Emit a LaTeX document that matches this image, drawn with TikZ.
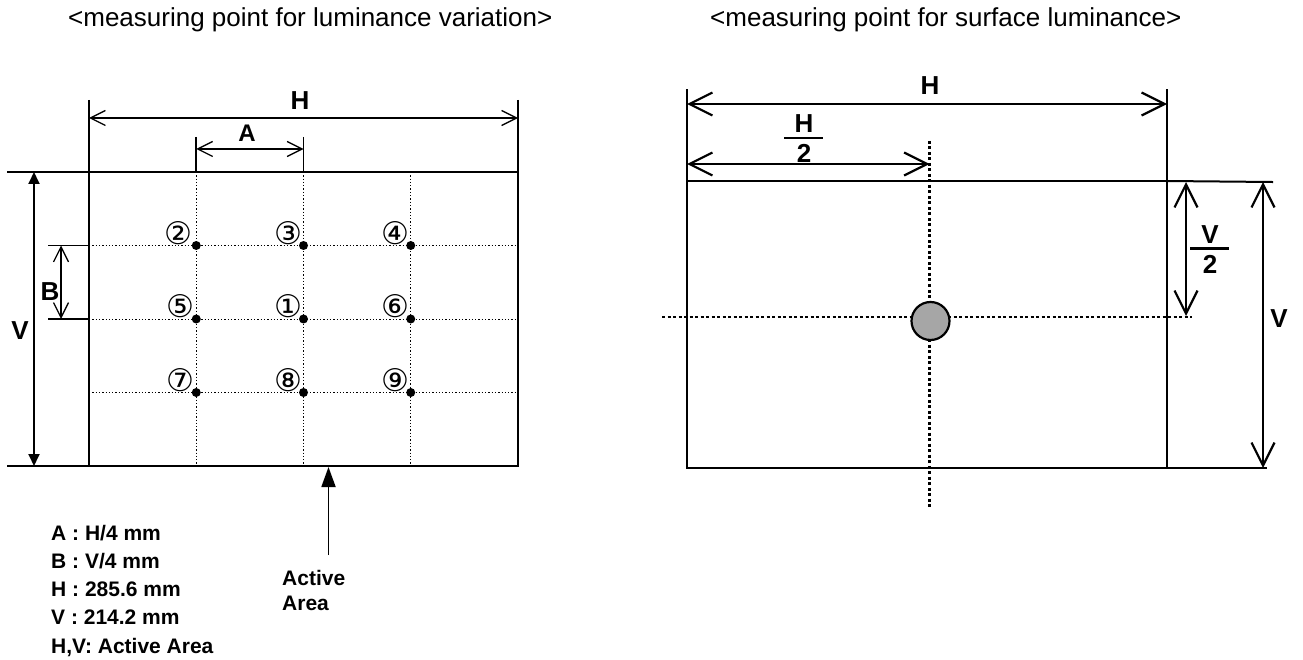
\documentclass[tikz,border=0pt]{standalone}
\usepackage{graphicx}
\usepackage{fontspec}
\setmainfont{Liberation Sans}
\newfontfamily\circfont{DejaVu Sans}
\usetikzlibrary{arrows.meta}
\newcommand{\cnum}[1]{\resizebox{!}{23pt}{\circfont #1}}
\tikzset{
  frame/.style={line width=2pt, line cap=rect},
  extline/.style={line width=1.8pt},
  dimthin/.style={line width=1.3pt, {Straight Barb[length=15pt,width=15pt]}-{Straight Barb[length=15pt,width=15pt]}},
  dimbig/.style={line width=2.2pt, {Straight Barb[length=23pt,width=23pt]}-{Straight Barb[length=23pt,width=23pt]}},
  dimsolid/.style={line width=1.8pt, {Triangle[length=12pt,width=11pt]}-{Triangle[length=12pt,width=11pt]}},
  uparrow/.style={line width=1.8pt, -{Triangle[length=20pt,width=14pt]}},
  gridline/.style={line width=1pt, dash pattern=on 1.3pt off 2pt},
  bigdots/.style={line width=2.5pt, dash pattern=on 3pt off 2.5pt},
  lab/.style={inner sep=0pt, font=\bfseries\fontsize{26}{30}\selectfont},
  smalllab/.style={inner sep=0pt, font=\bfseries\fontsize{24}{28}\selectfont},
  title/.style={inner sep=0pt, font=\fontsize{26}{30}\selectfont},
  txt/.style={inner sep=0pt, font=\bfseries\fontsize{21}{24}\selectfont},
  num/.style={inner sep=0pt},
  dot/.style={circle, fill=black, inner sep=0pt, minimum size=9pt},
  measpt/.style={circle, draw=black, line width=2.2pt, fill=black!35, inner sep=0pt, minimum size=38pt},
  fracbar/.style={line width=2.6pt}
}
\begin{document}
\begin{tikzpicture}[x=1pt,y=-1pt]
\useasboundingbox (0,0) rectangle (1303,660);

% ---------- titles ----------
\node[title, anchor=base west] (t1) at (68,27) {<measuring point for luminance variation>};
\node[title, anchor=base west] (t2) at (710,27) {<measuring point for surface luminance>};

% ================= LEFT DIAGRAM =================
\coordinate (Ltl) at (89,172);
\coordinate (Ltr) at (518,172);
\coordinate (Lbl) at (89,466);
\coordinate (Lbr) at (518,466);
\coordinate (Ltop0) at (8,172);
\coordinate (Lbot0) at (8,466);

% grid lines (dotted)
\foreach \i/\x in {1/196.25,2/303.5,3/410.75}{
  \coordinate (gvT\i) at (\x,172);
  \coordinate (gvB\i) at (\x,466);
  \draw[gridline] (gvT\i) -- (gvB\i);
}
\foreach \j/\y in {1/245.5,2/319,3/392.5}{
  \coordinate (ghL\j) at (89,\y);
  \coordinate (ghR\j) at (518,\y);
  \draw[gridline] (ghL\j) -- (ghR\j);
}

% frame
\draw[frame] (Ltop0) -- (Ltr) -- (Lbr) -- (Lbot0);
\draw[frame] (Ltl) -- (Lbl);

% H dimension
\coordinate (LHe1) at (89,100);
\coordinate (LHe2) at (518,100);
\draw[extline] (LHe1) -- (Ltl);
\draw[extline] (LHe2) -- (Ltr);
\coordinate (LHa1) at (89,118);
\coordinate (LHa2) at (518,118);
\draw[dimthin] (LHa1) -- (LHa2);
\node[lab] (LH) at (300,101) {H};

% A dimension
\coordinate (LAe1) at (196.25,137);
\coordinate (LAe2) at (303.5,137);
\draw[extline] (LAe1) -- (gvT1);
\draw[extline] (LAe2) -- (gvT2);
\coordinate (LAa1) at (196.25,149);
\coordinate (LAa2) at (303.5,149);
\draw[dimthin] (LAa1) -- (LAa2);
\node[smalllab] (LA) at (247,133.5) {A};

% V dimension
\coordinate (LVa1) at (34,172);
\coordinate (LVa2) at (34,466);
\draw[dimsolid] (LVa1) -- (LVa2);
\node[lab] (LV) at (20,331) {V};

% B dimension
\coordinate (LBe1) at (48,245.5);
\coordinate (LBe2) at (48,319);
\draw[extline] (LBe1) -- (ghL1);
\draw[extline] (LBe2) -- (ghL2);
\coordinate (LBa1) at (61,245.5);
\coordinate (LBa2) at (61,319);
\draw[dimthin] (LBa1) -- (LBa2);
\node[lab] (LB) at (50,291.5) {B};

% measuring points
\foreach \n/\x/\y in {2/196.25/245.5, 3/303.5/245.5, 4/410.75/245.5,
                      5/196.25/319, 1/303.5/319, 6/410.75/319,
                      7/196.25/392.5, 8/303.5/392.5, 9/410.75/392.5}{
  \node[dot] (d\n) at (\x,\y) {};
}
\node[num] (c2) at (178,233.5) {\cnum{②}};
\node[num] (c3) at (288,233.5) {\cnum{③}};
\node[num] (c4) at (395.5,233.5) {\cnum{④}};
\node[num] (c5) at (180,306.5) {\cnum{⑤}};
\node[num] (c1) at (288.5,306.5) {\cnum{①}};
\node[num] (c6) at (395.5,306.5) {\cnum{⑥}};
\node[num] (c7) at (180,380) {\cnum{⑦}};
\node[num] (c8) at (288.5,380) {\cnum{⑧}};
\node[num] (c9) at (395.5,380) {\cnum{⑨}};

% Active Area arrow
\coordinate (AAs) at (328.5,555);
\coordinate (AAe) at (328.5,467);
\draw[uparrow] (AAs) -- (AAe);
\node[txt, anchor=base west] (AAt1) at (282,585) {Active};
\node[txt, anchor=base west] (AAt2) at (282,610) {Area};

% legend
\foreach \k/\y/\s in {1/540/{A : H/4 mm}, 2/568.3/{B : V/4 mm}, 3/596.6/{H : 285.6 mm},
                      4/624.9/{V : 214.2 mm}, 5/653.2/{H,V: Active Area}}{
  \node[txt, anchor=base west] (leg\k) at (51,\y) {\s};
}

% ================= RIGHT DIAGRAM =================
\coordinate (Rtl) at (687,181);
\coordinate (Rtr) at (1167,181);
\coordinate (Rbl) at (687,468);
\coordinate (Rbr) at (1167,468);

% center dotted lines
\coordinate (Rv1) at (929.5,141);
\coordinate (Rv2) at (929.5,507);
\coordinate (Rh1) at (662,317);
\coordinate (Rh2) at (1192,317);
\draw[bigdots] (Rv1) -- (Rv2);
\draw[bigdots] (Rh1) -- (Rh2);

% frame
\draw[frame] (Rtl) rectangle (Rbr);

% H extension lines and dimension
\coordinate (RHe1) at (687,90);
\coordinate (RHe2) at (1167,90);
\draw[frame] (RHe1) -- (Rtl);
\draw[frame] (RHe2) -- (Rtr);
\coordinate (RHa1) at (687,104);
\coordinate (RHa2) at (1167,104);
\draw[dimbig] (RHa1) -- (RHa2);
\node[lab] (RH) at (930,86) {H};

% H/2 dimension
\coordinate (RH2a1) at (687,164);
\coordinate (RH2a2) at (929.5,164);
\draw[dimbig] (RH2a1) -- (RH2a2);
\node[lab] (RH2n) at (804,124) {H};
\node[lab] (RH2d) at (804,153.5) {2};
\coordinate (RH2b1) at (784,138);
\coordinate (RH2b2) at (823,138);
\draw[fracbar] (RH2b1) -- (RH2b2);

% right extension lines
\coordinate (RVe1) at (1272,182);
\coordinate (RVe2) at (1266,468);
\draw[frame] (Rtr) -- (RVe1);
\draw[frame] (Rbr) -- (RVe2);

% V/2 dimension
\coordinate (RV2a1) at (1186,182);
\coordinate (RV2a2) at (1186,316);
\draw[dimbig] (RV2a1) -- (RV2a2);
\node[lab] (RV2n) at (1210,235) {V};
\node[lab] (RV2d) at (1210,264) {2};
\coordinate (RV2b1) at (1190,248.5);
\coordinate (RV2b2) at (1229,248.5);
\draw[fracbar] (RV2b1) -- (RV2b2);

% V dimension
\coordinate (RVa1) at (1263,182);
\coordinate (RVa2) at (1263,468);
\draw[dimbig] (RVa1) -- (RVa2);
\node[lab] (RV) at (1279,319) {V};

% measuring point
\node[measpt] (M) at (930.5,321) {};
\end{tikzpicture}
\end{document}
